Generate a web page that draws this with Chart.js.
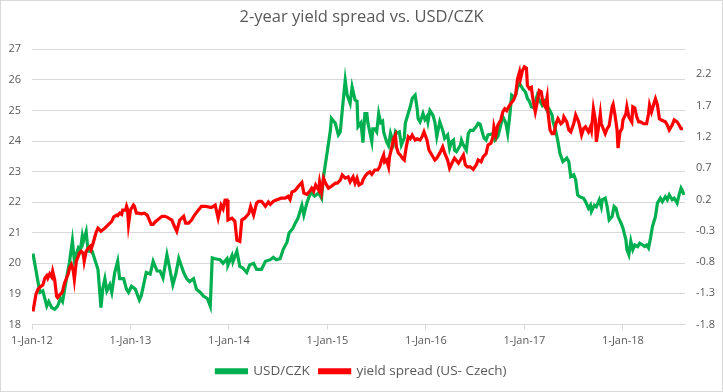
<!DOCTYPE html>
<html>
<head>
<meta charset="utf-8">
<script src="https://cdn.jsdelivr.net/npm/chart.js@4"></script>
<style>
html,body{margin:0;padding:0;background:#fff;}
#wrap{width:723px;height:392px;position:relative;}
</style>
</head>
<body>
<div id="wrap"><canvas id="c" width="723" height="392"></canvas></div>
<script>
// time in years since 1-Jan-2012
const xTickValues = [0, 1, 2, 3, 4, 5, 6];
const xTickLabels = ['1-Jan-12','1-Jan-13','1-Jan-14','1-Jan-15','1-Jan-16','1-Jan-17','1-Jan-18'];
const leftTicks = [18,19,20,21,22,23,24,25,26,27];
const rightTicks = [-1.8,-1.3,-0.8,-0.3,0.2,0.7,1.2,1.7,2.2];

const usdCzkT = [0.01,0.08,0.11,0.15,0.17,0.20,0.23,0.26,0.29,0.31,0.35,0.38,0.41,0.43,0.47,0.49,0.51,0.52,0.55,0.56,0.57,0.61,0.64,0.67,0.70,0.72,0.74,0.76,0.79,0.81,0.84,0.87,0.89,0.93,0.96,0.98,1.01,1.05,1.09,1.11,1.16,1.20,1.23,1.27,1.30,1.33,1.37,1.40,1.43,1.46,1.49,1.54,1.57,1.60,1.64,1.67,1.71,1.74,1.78,1.81,1.83,1.86,1.91,1.94,1.98,1.99,2.03,2.04,2.08,2.11,2.14,2.18,2.21,2.25,2.28,2.33,2.37,2.42,2.45,2.48,2.52,2.55,2.59,2.61,2.65,2.67,2.70,2.74,2.76,2.79,2.82,2.84,2.87,2.91,2.94,2.96,3.00,3.03,3.04,3.08,3.11,3.13,3.15,3.18,3.20,3.23,3.25,3.28,3.30,3.31,3.34,3.36,3.38,3.40,3.41,3.45,3.46,3.48,3.50,3.52,3.54,3.56,3.57,3.60,3.62,3.64,3.67,3.69,3.70,3.73,3.75,3.78,3.79,3.82,3.84,3.86,3.89,3.91,3.92,3.94,3.96,3.97,3.99,4.01,4.02,4.04,4.07,4.09,4.11,4.14,4.17,4.19,4.22,4.24,4.26,4.28,4.29,4.31,4.35,4.36,4.38,4.41,4.43,4.45,4.48,4.51,4.53,4.55,4.58,4.59,4.61,4.63,4.66,4.68,4.70,4.73,4.75,4.78,4.81,4.83,4.85,4.87,4.89,4.91,4.93,4.95,4.98,5.01,5.03,5.05,5.07,5.10,5.11,5.13,5.16,5.18,5.20,5.23,5.25,5.28,5.29,5.32,5.34,5.36,5.39,5.41,5.43,5.45,5.47,5.50,5.52,5.54,5.56,5.60,5.62,5.65,5.67,5.68,5.71,5.73,5.76,5.78,5.79,5.82,5.84,5.86,5.89,5.91,5.93,5.95,5.98,6.00,6.03,6.04,6.06,6.08,6.10,6.12,6.15,6.17,6.20,6.22,6.24,6.26,6.28,6.30,6.33,6.35,6.38,6.40,6.43,6.45,6.47,6.50,6.52,6.55,6.57,6.59,6.60,6.62];
const usdCzkV = [20.32,19.05,19.1,18.6,18.75,18.55,18.5,18.6,18.85,18.75,19.5,20.03,20.74,20.1,20.5,20.4,20.88,20.7,21.04,20.7,20.4,20.4,20.1,19.8,18.55,19.2,19.5,19.1,19.3,19.05,19.7,20.07,19.5,19.5,19.15,19.05,19.25,19.15,18.8,18.95,19.7,19.65,20.07,19.75,19.75,19.52,20.28,19.8,19.3,19.65,20.16,19.7,19.5,19.4,19.5,19.15,19.05,18.93,18.85,18.6,20.18,20.15,20.12,20.0,20.15,19.95,20.25,20.05,20.4,19.9,19.85,19.7,19.95,20.0,19.8,19.8,20.07,20.12,20.2,20.12,20.15,20.45,20.7,20.99,21.15,21.3,21.47,21.9,21.58,21.97,22.24,22.3,22.2,22.3,22.13,22.84,23.7,24.36,24.74,24.58,24.2,24.3,25.0,25.99,25.5,25.23,25.77,25.34,25.3,24.47,24.6,23.95,24.9,24.9,24.6,23.98,24.4,24.4,24.3,24.9,24.6,24.65,24.3,23.98,23.85,24.25,23.93,24.3,24.25,24.3,23.87,24.1,24.58,24.9,25.12,25.39,25.5,25.07,24.74,24.63,24.8,24.9,24.7,24.8,24.63,25.0,24.85,24.63,24.14,24.63,24.35,24.09,24.2,23.76,23.98,24.03,23.7,23.65,23.87,24.03,23.87,23.7,24.25,24.35,24.35,24.47,24.58,24.55,24.2,24.1,24.03,24.2,24.22,24.25,24.03,24.15,24.4,24.8,24.6,24.25,24.8,25.5,25.45,25.5,25.77,25.88,25.72,25.6,25.39,25.3,25.12,25.08,25.28,25.5,25.28,25.17,25.28,25.0,25.05,24.85,24.63,24.3,23.98,23.6,23.33,23.38,23.44,23.33,22.84,22.9,22.73,22.24,22.18,22.13,22.02,21.8,21.9,21.7,21.9,21.85,22.08,21.85,22.08,22.13,21.85,21.42,21.53,21.86,21.8,21.53,21.32,21.15,20.77,20.45,20.28,20.72,20.45,20.6,20.55,20.66,20.6,20.55,20.6,20.5,20.83,21.21,21.53,21.97,22.13,22.02,22.18,22.08,22.24,22.08,22.13,21.97,22.24,22.46,22.4,22.24];

const spreadT = [0.01,0.04,0.06,0.09,0.11,0.13,0.15,0.16,0.18,0.20,0.21,0.23,0.25,0.26,0.28,0.30,0.31,0.33,0.35,0.37,0.38,0.40,0.42,0.43,0.45,0.47,0.48,0.50,0.52,0.53,0.55,0.57,0.59,0.60,0.62,0.64,0.65,0.67,0.69,0.70,0.74,0.77,0.81,0.83,0.86,0.87,0.89,0.91,0.92,0.95,0.96,0.97,0.98,1.00,1.03,1.04,1.06,1.08,1.11,1.14,1.17,1.21,1.23,1.25,1.28,1.32,1.35,1.38,1.42,1.44,1.47,1.50,1.54,1.56,1.59,1.62,1.65,1.69,1.72,1.76,1.79,1.82,1.84,1.86,1.89,1.92,1.94,1.96,1.98,1.99,2.03,2.06,2.08,2.11,2.13,2.16,2.20,2.22,2.25,2.28,2.30,2.33,2.37,2.40,2.42,2.45,2.48,2.53,2.57,2.60,2.62,2.64,2.67,2.70,2.74,2.76,2.79,2.82,2.84,2.86,2.88,2.91,2.92,2.94,2.96,2.98,3.01,3.04,3.08,3.10,3.13,3.15,3.18,3.21,3.23,3.26,3.28,3.30,3.32,3.35,3.36,3.39,3.41,3.43,3.45,3.48,3.51,3.53,3.55,3.57,3.58,3.60,3.62,3.63,3.65,3.67,3.69,3.70,3.72,3.74,3.76,3.78,3.80,3.82,3.84,3.86,3.89,3.91,3.94,3.96,3.98,4.01,4.03,4.06,4.09,4.11,4.14,4.17,4.19,4.22,4.24,4.27,4.29,4.33,4.35,4.38,4.40,4.42,4.45,4.48,4.51,4.53,4.56,4.58,4.61,4.63,4.66,4.68,4.69,4.71,4.73,4.76,4.78,4.80,4.82,4.84,4.86,4.89,4.91,4.93,4.95,4.96,4.98,5.00,5.02,5.03,5.05,5.07,5.08,5.10,5.11,5.13,5.15,5.17,5.19,5.21,5.23,5.24,5.26,5.28,5.30,5.32,5.34,5.37,5.39,5.40,5.43,5.45,5.47,5.50,5.52,5.55,5.56,5.58,5.60,5.62,5.65,5.67,5.68,5.70,5.72,5.73,5.75,5.77,5.78,5.80,5.82,5.84,5.86,5.89,5.90,5.92,5.94,5.95,5.97,5.99,6.00,6.03,6.04,6.06,6.09,6.10,6.12,6.14,6.16,6.18,6.21,6.24,6.26,6.27,6.29,6.31,6.33,6.35,6.37,6.39,6.43,6.45,6.47,6.50,6.52,6.55,6.57,6.59,6.61];
const spreadV = [-1.59,-1.32,-1.24,-1.19,-1.17,-1.06,-1.02,-1.06,-0.99,-1.04,-0.95,-1.08,-1.35,-1.37,-1.33,-1.3,-1.27,-1.14,-1.06,-0.98,-0.9,-0.84,-0.95,-1.08,-0.79,-0.71,-0.66,-0.63,-0.66,-0.79,-0.63,-0.58,-0.55,-0.6,-0.5,-0.39,-0.33,-0.26,-0.29,-0.31,-0.26,-0.21,-0.15,-0.08,-0.05,-0.06,-0.02,-0.04,0.03,0.03,0.09,0.04,-0.2,0.03,0.11,0.09,-0.02,-0.02,-0.03,-0.02,-0.05,-0.2,-0.2,-0.16,-0.12,-0.07,-0.07,-0.09,-0.13,-0.21,-0.31,-0.13,-0.07,-0.18,-0.18,-0.13,-0.05,0.03,0.09,0.09,0.08,0.07,0.09,0.11,-0.1,0.11,0.05,0.19,0.19,-0.13,-0.1,-0.15,-0.45,-0.47,-0.13,-0.1,-0.03,0.09,-0.05,0.14,0.17,0.17,0.09,0.16,0.12,0.17,0.19,0.22,0.22,0.25,0.2,0.32,0.34,0.4,0.47,0.3,0.28,0.33,0.38,0.33,0.43,0.35,0.48,0.32,0.54,0.46,0.38,0.41,0.46,0.46,0.51,0.59,0.54,0.56,0.48,0.56,0.46,0.54,0.43,0.46,0.51,0.59,0.62,0.64,0.6,0.67,0.67,0.72,0.83,0.91,0.8,0.83,0.72,0.88,1.01,1.17,1.23,1.04,0.94,0.91,0.86,0.83,1.04,1.2,1.17,1.23,1.15,1.17,1.15,1.2,1.28,1.15,0.99,0.91,0.83,0.86,0.94,1.04,0.94,0.83,0.7,0.8,0.86,0.78,0.83,0.91,0.75,0.72,0.72,0.68,0.75,0.83,0.8,0.88,0.93,1.07,1.1,1.2,1.36,1.23,1.39,1.47,1.6,1.65,1.62,1.68,1.73,1.79,1.87,2.13,2.24,2.13,2.26,2.32,2.3,2.02,1.97,1.99,1.87,1.68,1.6,1.76,1.94,1.92,1.73,1.68,1.84,1.57,1.31,1.25,1.25,1.41,1.49,1.41,1.44,1.52,1.44,1.31,1.28,1.41,1.55,1.44,1.38,1.23,1.33,1.36,1.28,1.36,1.3,1.65,1.47,1.12,1.33,1.57,1.41,1.33,1.25,1.33,1.38,1.68,1.72,1.54,1.31,1.02,1.28,1.33,1.47,1.57,1.68,1.52,1.44,1.68,1.66,1.52,1.44,1.44,1.41,1.41,1.57,1.71,1.6,1.71,1.81,1.71,1.49,1.47,1.44,1.39,1.31,1.39,1.47,1.44,1.39,1.33,1.33];

const GREEN = '#00B050';
const RED = '#FF0000';
const TXT = '#595959';
const GRID = '#d9d9d9';
const FONT = "'Open Sans', 'Noto Sans', sans-serif";

const usdCzkData = usdCzkT.map((t, i) => ({x: t, y: usdCzkV[i]}));
const spreadData = spreadT.map((t, i) => ({x: t, y: spreadV[i]}));

const frame = {
  id: 'frame',
  beforeDraw(chart) {
    const ctx = chart.ctx;
    ctx.save();
    ctx.fillStyle = '#fff';
    ctx.fillRect(0, 0, chart.width, chart.height);
    ctx.strokeStyle = GRID;
    ctx.lineWidth = 1;
    ctx.strokeRect(0.5, 0.5, chart.width - 1, chart.height - 1);
    ctx.restore();
  }
};

new Chart(document.getElementById('c'), {
  type: 'line',
  data: {
    datasets: [
      {label: 'USD/CZK', data: usdCzkData, yAxisID: 'y', borderColor: GREEN, backgroundColor: GREEN, borderWidth: 3.2, pointRadius: 0, tension: 0, order: 2},
      {label: 'yield spread (US- Czech)', data: spreadData, yAxisID: 'y2', borderColor: RED, backgroundColor: RED, borderWidth: 3.2, pointRadius: 0, tension: 0, order: 1}
    ]
  },
  options: {
    responsive: false,
    animation: false,
    layout: {padding: {left: 0, right: 0, top: 0, bottom: 4}},
    plugins: {
      title: {display: true, text: '2-year yield spread vs. USD/CZK', color: TXT, font: {family: FONT, size: 16.5, weight: 'normal'}, padding: {top: 7, bottom: 22.5}},
      legend: {position: 'bottom', labels: {color: TXT, font: {family: FONT, size: 13.5}, boxWidth: 30, boxHeight: 3, padding: 10, sort: (a, b) => a.datasetIndex - b.datasetIndex}},
      tooltip: {enabled: false}
    },
    scales: {
      x: {
        type: 'linear', min: 0, max: 6.63,
        afterBuildTicks: s => { s.ticks = xTickValues.map(v => ({value: v})); },
        afterFit: s => { s.height = 30; },
        ticks: {color: TXT, font: {family: FONT, size: 11}, padding: 5, maxRotation: 0, autoSkip: false,
          callback: (v) => { const i = xTickValues.indexOf(v); return i >= 0 ? xTickLabels[i] : ''; }},
        grid: {drawOnChartArea: false, drawTicks: true, tickLength: 5, color: GRID},
        border: {display: true, color: GRID}
      },
      y: {
        position: 'left', min: 18, max: 27,
        afterBuildTicks: s => { s.ticks = leftTicks.map(v => ({value: v})); },
        afterFit: s => { s.width = 32; },
        ticks: {color: TXT, font: {family: FONT, size: 11}, padding: 11},
        grid: {color: GRID, drawTicks: false, lineWidth: 1},
        border: {display: false}
      },
      y2: {
        position: 'right', min: -1.8, max: 2.6,
        afterBuildTicks: s => { s.ticks = rightTicks.map(v => ({value: v})); },
        afterFit: s => { s.width = 38; },
        ticks: {color: TXT, font: {family: FONT, size: 11}, padding: 11, callback: v => String(v)},
        grid: {drawOnChartArea: false, drawTicks: false},
        border: {display: false}
      }
    }
  },
  plugins: [frame]
});
</script>
</body>
</html>
